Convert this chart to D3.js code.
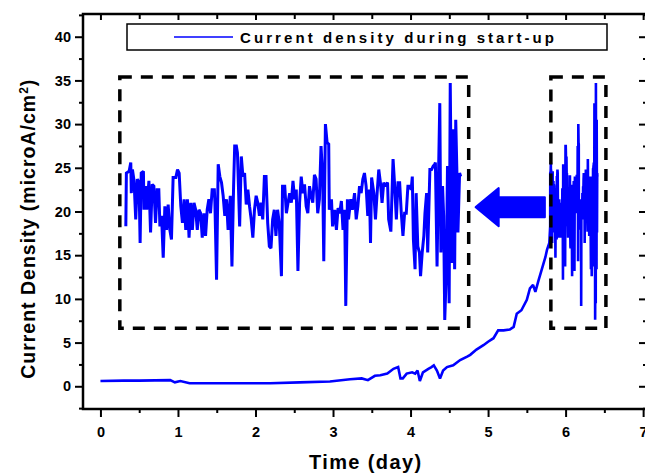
<!DOCTYPE html>
<html>
<head>
<meta charset="utf-8">
<script src="https://cdn.jsdelivr.net/npm/d3@7"></script>
<style>
  body { margin: 0; background: #fff; }
  svg text { font-family: "Liberation Sans", Arial, sans-serif; font-weight: bold; fill: #000; }
</style>
</head>
<body>
<script>
// day, microA/cm2 : slow start-up part
const rampPoints = [
  [0,0.6],[0.3,0.65],[0.5,0.65],[0.9,0.7],[0.96,0.45],[1.03,0.6],[1.15,0.35],[1.6,0.35],[2.19,0.35],[2.57,0.45],
  [2.96,0.55],[3.22,0.8],[3.37,0.9],[3.45,0.7],[3.54,1.2],[3.61,1.26],[3.70,1.45],[3.78,2.0],[3.84,2.2],[3.87,0.9],
  [3.90,0.9],[3.95,1.45],[4.02,1.6],[4.06,1.45],[4.09,1.8],[4.12,0.6],[4.16,1.6],[4.23,2.0],[4.27,2.2],[4.30,2.4],
  [4.34,1.8],[4.38,0.9],[4.42,1.8],[4.47,2.2],[4.55,2.4],[4.64,3.0],[4.73,3.4],[4.77,3.6],[4.85,4.2],[4.94,4.7],
  [5.00,5.1],[5.07,5.5],[5.13,6.4],[5.20,6.4],[5.28,6.5],[5.33,6.8],[5.37,8.3],[5.43,8.7],[5.50,9.9],[5.54,11.2],
  [5.58,11.6],[5.61,10.8],[5.65,12.1],[5.69,13.3],[5.74,14.8],[5.76,15.6],[5.79,16.4]
];
// noisy end of the run, also drawn stretched inside the inset
const noisePoints = [
  [5.801,18.3],[5.802,24.4],[5.807,24.6],[5.810,25.6],[5.811,22.1],[5.813,24.8],[5.816,23.5],[5.819,19.1],[5.822,23.7],[5.825,23.3],
  [5.827,16.4],[5.829,24.4],[5.833,24.6],[5.834,20.2],[5.837,22.9],[5.839,20.2],[5.843,23.5],[5.846,17.6],[5.849,23.1],[5.852,22.9],
  [5.855,18.7],[5.858,22.5],[5.861,22.5],[5.863,18.3],[5.866,19.5],[5.869,14.7],[5.872,20.6],[5.875,17.9],[5.878,20.8],[5.881,17.9],
  [5.884,16.8],[5.887,23.9],[5.892,23.9],[5.895,24.8],[5.898,24.4],[5.901,20.6],[5.904,18.7],[5.907,21.4],[5.910,17.9],[5.913,21.4],
  [5.916,17.0],[5.919,21.0],[5.922,17.9],[5.925,21.0],[5.928,20.2],[5.931,17.9],[5.934,20.2],[5.937,19.8],[5.940,17.0],[5.943,19.8],
  [5.946,17.2],[5.949,20.2],[5.952,21.4],[5.955,19.8],[5.958,22.5],[5.962,22.5],[5.963,21.0],[5.966,12.2],[5.969,25.4],[5.972,24.0],
  [5.975,23.3],[5.978,21.8],[5.981,19.5],[5.984,21.4],[5.987,17.9],[5.991,21.8],[5.994,13.7],[5.997,22.9],[5.999,27.5],[6.002,27.5],
  [6.004,26.7],[6.008,18.3],[6.011,26.3],[6.014,24.0],[6.017,24.4],[6.020,20.8],[6.023,22.5],[6.026,20.6],[6.029,19.1],[6.032,17.0],
  [6.035,20.2],[6.038,21.8],[6.041,21.0],[6.044,19.5],[6.047,21.0],[6.050,19.1],[6.053,24.0],[6.056,24.0],[6.059,18.7],[6.062,16.0],
  [6.065,15.8],[6.068,19.1],[6.071,20.2],[6.074,17.2],[6.077,20.2],[6.080,18.7],[6.084,12.6],[6.086,22.9],[6.090,22.9],[6.093,19.8],
  [6.096,21.0],[6.099,22.1],[6.102,21.0],[6.105,23.5],[6.108,21.4],[6.111,22.5],[6.114,13.2],[6.117,21.0],[6.120,24.0],[6.123,22.1],
  [6.126,23.1],[6.129,20.6],[6.132,19.8],[6.135,22.9],[6.138,21.8],[6.141,21.0],[6.144,24.2],[6.147,23.7],[6.150,19.8],[6.153,21.4],
  [6.156,27.5],[6.159,24.0],[6.161,14.3],[6.164,30.0],[6.167,27.9],[6.170,27.7],[6.171,20.2],[6.175,21.4],[6.177,18.3],[6.181,20.2],
  [6.184,17.9],[6.187,20.4],[6.190,19.8],[6.193,21.2],[6.196,17.9],[6.199,20.2],[6.201,9.2],[6.204,21.4],[6.206,19.1],[6.210,21.4],
  [6.213,20.2],[6.217,22.1],[6.220,19.1],[6.223,20.6],[6.226,22.9],[6.229,22.1],[6.232,23.7],[6.235,24.4],[6.238,22.9],[6.241,19.5],
  [6.244,22.5],[6.246,16.4],[6.248,23.9],[6.252,22.1],[6.255,19.1],[6.258,22.1],[6.261,24.8],[6.264,23.3],[6.267,21.0],[6.270,23.3],
  [6.273,22.9],[6.277,23.3],[6.279,19.1],[6.283,17.7],[6.286,24.0],[6.287,26.0],[6.290,22.9],[6.293,19.1],[6.296,23.3],[6.299,23.3],
  [6.302,19.8],[6.305,17.2],[6.308,19.8],[6.311,19.8],[6.314,22.9],[6.317,22.9],[6.320,22.5],[6.322,24.0],[6.324,16.8],[6.327,13.4],
  [6.329,22.1],[6.332,16.0],[6.335,15.3],[6.337,12.6],[6.340,15.3],[6.343,17.2],[6.345,19.8],[6.348,22.1],[6.350,15.3],[6.354,24.8],
  [6.357,24.8],[6.360,25.2],[6.363,25.4],[6.364,25.6],[6.367,13.7],[6.369,21.8],[6.372,32.4],[6.374,15.3],[6.377,22.9],[6.379,19.5],
  [6.381,7.6],[6.384,13.4],[6.386,25.2],[6.389,9.5],[6.391,34.7],[6.394,14.1],[6.396,29.4],[6.399,13.4],[6.401,30.5],[6.403,24.8],
  [6.405,17.6],[6.408,24.4],[6.410,24.0]
];

const xTicks = [0, 1, 2, 3, 4, 5, 6, 7];
const xMinor = [0.5, 1.5, 2.5, 3.5, 4.5, 5.5, 6.5];
const yTicks = [0, 5, 10, 15, 20, 25, 30, 35, 40];
const yMinor = [-2.5, 2.5, 7.5, 12.5, 17.5, 22.5, 27.5, 32.5, 37.5, 42.5];
const legendLabel = "Current density during start-up";
const xTitle = "Time (day)";

// layout
const W = 645, H = 475;
const plot = { left: 83, right: 647, top: 14, bottom: 409 };
// dashed boxes in data units
const zoomBox = { x0: 5.81, x1: 6.52, y0: 6.65, y1: 35.4 };
const insetBox = { x0: 0.25, x1: 4.75, y0: 6.65, y1: 35.4 };
const blue = "#0000ff";

const svg = d3.select("body").append("svg")
  .attr("width", W).attr("height", H);

const x = d3.scaleLinear().domain([-0.225, 7.05]).range([plot.left, plot.right]);
const y = d3.scaleLinear().domain([-2.6, 42.6]).range([plot.bottom, plot.top]);

function strip(g) {
  g.select(".domain").remove();
  g.selectAll(".tick line").attr("stroke", "#000").attr("stroke-width", 2);
}

// left axis
svg.append("g").attr("transform", `translate(${plot.left},0)`)
  .call(d3.axisLeft(y).tickValues(yTicks).tickSize(8).tickPadding(4).tickFormat(d3.format("d")))
  .call(strip)
  .selectAll("text").style("font-size", "14.5px");
svg.append("g").attr("transform", `translate(${plot.left},0)`)
  .call(d3.axisLeft(y).tickValues(yMinor.filter(v => v > -2.6 && v < 42.6)).tickSize(4).tickFormat(""))
  .call(strip);
// right axis, ticks inside
svg.append("g").attr("transform", `translate(${plot.right},0)`)
  .call(d3.axisRight(y).tickValues(yTicks).tickSize(-8).tickFormat(""))
  .call(strip);
svg.append("g").attr("transform", `translate(${plot.right},0)`)
  .call(d3.axisRight(y).tickValues(yMinor.filter(v => v > -2.6 && v < 42.6)).tickSize(-4).tickFormat(""))
  .call(strip);
// bottom axis
svg.append("g").attr("transform", `translate(0,${plot.bottom})`)
  .call(d3.axisBottom(x).tickValues(xTicks).tickSize(8).tickPadding(10).tickFormat(d3.format("d")))
  .call(strip)
  .selectAll("text").style("font-size", "14.5px");
svg.append("g").attr("transform", `translate(0,${plot.bottom})`)
  .call(d3.axisBottom(x).tickValues(xMinor).tickSize(4).tickFormat(""))
  .call(strip);
// top axis, ticks inside
svg.append("g").attr("transform", `translate(0,${plot.top})`)
  .call(d3.axisTop(x).tickValues(xTicks).tickSize(-6).tickFormat(""))
  .call(strip);
svg.append("g").attr("transform", `translate(0,${plot.top})`)
  .call(d3.axisTop(x).tickValues(xMinor).tickSize(-5).tickFormat(""))
  .call(strip);

// frame
svg.append("rect")
  .attr("x", plot.left).attr("y", plot.top)
  .attr("width", plot.right - plot.left).attr("height", plot.bottom - plot.top)
  .attr("fill", "none").attr("stroke", "#000").attr("stroke-width", 2.5);

// titles
svg.append("text")
  .attr("x", (x(0) + x(7)) / 2 - 6).attr("y", 469)
  .attr("text-anchor", "middle")
  .style("font-size", "20px").style("letter-spacing", "1.4px")
  .text(xTitle);

const yt = svg.append("text")
  .attr("transform", `translate(35,${(y(0) + y(42)) / 2 + 26}) rotate(-90)`)
  .attr("text-anchor", "middle")
  .style("font-size", "19.5px").style("letter-spacing", "1px");
yt.append("tspan").text("Current Density (microA/cm");
yt.append("tspan").attr("dy", -7).style("font-size", "12px").text("2");
yt.append("tspan").attr("dy", 7).text(")");

// legend
const lg = svg.append("g");
lg.append("rect").attr("x", 127).attr("y", 24).attr("width", 480).attr("height", 26)
  .attr("fill", "#fff").attr("stroke", "#000").attr("stroke-width", 1.5);
lg.append("line").attr("x1", 174).attr("x2", 233).attr("y1", 37).attr("y2", 37)
  .attr("stroke", blue).attr("stroke-width", 1.5);
lg.append("text").attr("x", 240).attr("y", 43)
  .attr("textLength", 314).attr("lengthAdjust", "spacing")
  .style("font-size", "15px").text(legendLabel);

// main curve
const allPoints = rampPoints.concat(noisePoints);
const line = d3.line().x(d => x(d[0])).y(d => y(d[1]));
svg.append("path").datum(allPoints)
  .attr("d", line).attr("fill", "none")
  .attr("stroke", blue).attr("stroke-width", 2.6).attr("stroke-linejoin", "miter").attr("stroke-miterlimit", 2);

// dashed boxes
function dashBox(b) {
  svg.append("rect")
    .attr("x", x(b.x0)).attr("y", y(b.y1))
    .attr("width", x(b.x1) - x(b.x0)).attr("height", y(b.y0) - y(b.y1))
    .attr("fill", "none").attr("stroke", "#000")
    .attr("stroke-width", 3.5).attr("stroke-dasharray", "12,9");
}
dashBox(zoomBox);
dashBox(insetBox);

// inset: noisy part stretched over the dashed box
const xi = d3.scaleLinear()
  .domain(d3.extent(noisePoints, d => d[0]))
  .range([x(insetBox.x0) + 6, x(insetBox.x1) - 8]);
svg.append("path").datum(noisePoints)
  .attr("d", d3.line().x(d => xi(d[0])).y(d => y(d[1])))
  .attr("fill", "none").attr("stroke", blue).attr("stroke-width", 3)
  .attr("stroke-linejoin", "miter").attr("stroke-miterlimit", 2);

// arrow from zoom box to inset
const ay = y(20.5);
const tipX = x(insetBox.x1) + 7, endX = x(zoomBox.x0) - 6, headX = tipX + 23;
const arrow = [[tipX, ay], [headX, ay - 19], [headX, ay - 10], [endX, ay - 10],
  [endX, ay + 10], [headX, ay + 10], [headX, ay + 19]];
svg.append("path")
  .attr("d", d3.line()(arrow) + "Z")
  .attr("fill", blue).attr("stroke", blue).attr("stroke-width", 2).attr("stroke-linejoin", "round");
</script>
</body>
</html>
